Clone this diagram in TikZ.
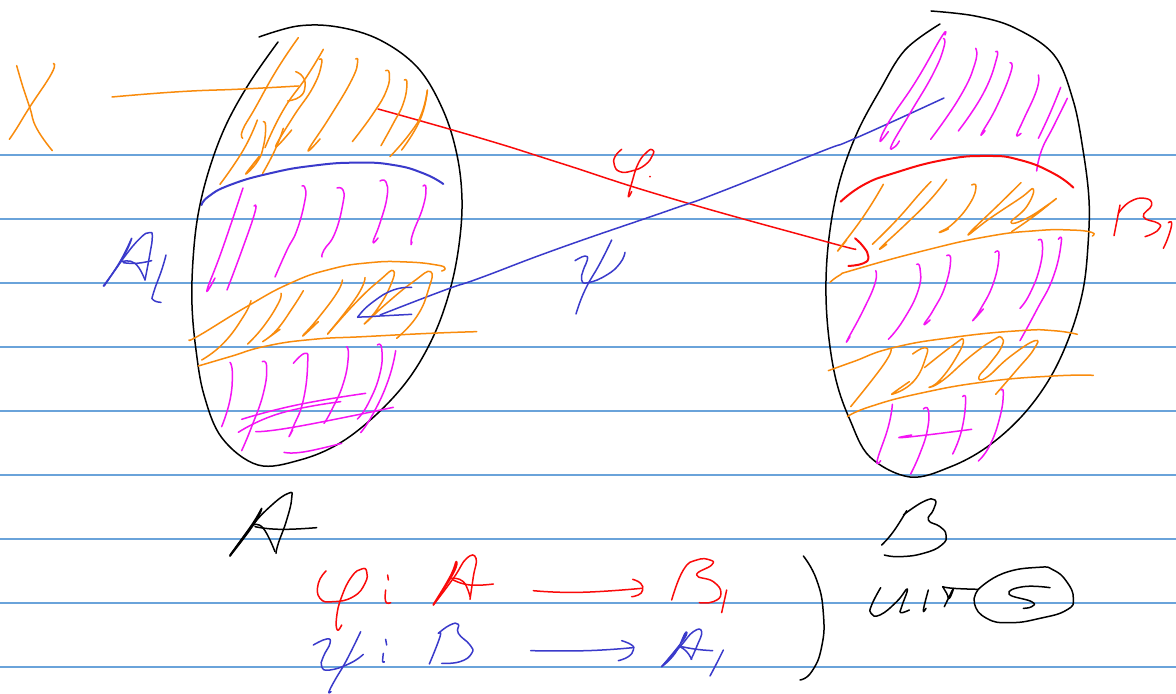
\documentclass[tikz,border=0pt]{standalone}
\definecolor{ruleblue}{HTML}{6AA3DA}
\definecolor{penorange}{HTML}{F98B0C}
\definecolor{penmagenta}{HTML}{F414F4}
\definecolor{penred}{HTML}{FA0A0A}
\definecolor{penblue}{HTML}{3A3ACB}
\begin{document}
\begin{tikzpicture}[
  x=0.5pt, y=-0.5pt,
  rule/.style={draw=ruleblue, line width=0.6pt},
  ink/.style={smooth, tension=0.85, line cap=round, line join=round, line width=0.75pt},
  orangeink/.style={ink, draw=penorange},
  magentaink/.style={ink, draw=penmagenta},
  redink/.style={ink, draw=penred},
  blueink/.style={ink, draw=penblue},
  blackink/.style={ink, draw=black}
]
\useasboundingbox[fill=white] (0,0) rectangle (1176,694);
\foreach \y in {155,219,283,347,411,475,539,603,667} {
  \draw[rule] (0,\y) -- (1176,\y);
}

% blobs
\draw[blackink, tension=0.6] plot coordinates {(278,42) (250,82) (226,125) (209,170) (198,215) (193,260) (192,305) (196,350) (204,395) (222,438) (258,465) (300,460) (340,443) (378,413) (410,377) (434,335) (450,290) (459,245) (462,200) (457,155) (443,110) (418,68) (380,40) (338,27) (298,26) (259,37)};
\draw[blackink, tension=0.6] plot coordinates {(940,24) (905,50) (880,90) (857,133) (840,180) (830,230) (826,280) (828,330) (836,380) (850,420) (870,457) (910,477) (950,467) (987,447) (1022,416) (1050,378) (1070,335) (1083,290) (1088,245) (1089,200) (1083,150) (1073,100) (1054,55) (1015,28) (975,16) (931,11)};

% maps across
\draw[redink] plot coordinates {(378,109) (480,138) (560,163) (670,198) (820,240) (855,249)};
\draw[blueink] plot coordinates {(944,98) (856,138) (820,152) (720,192) (670,210) (560,248) (480,278) (445,290) (380,315)};

% A, upper band
\begin{scope}[shift={(180,20)}, scale=1/3]
\draw[orangeink] plot coordinates {(355,53) (290,150) (225,265) (188,330) (188,355)};
\draw[orangeink] plot coordinates {(232,300) (190,390) (120,493)};
\draw[orangeink] plot coordinates {(250,305) (257,320) (250,380) (232,425) (197,462) (237,410)};
\draw[orangeink] plot coordinates {(430,88) (380,170) (310,270) (255,383)};
\draw[orangeink] plot coordinates {(418,118) (425,130) (400,200) (340,290) (287,380) (335,330)};
\draw[orangeink] plot coordinates {(310,325) (285,390) (248,460)};
\draw[orangeink] plot coordinates {(527,117) (533,125) (515,180) (450,290) (385,390) (420,357)};
\draw[orangeink] plot coordinates {(617,152) (628,160) (620,210) (580,280) (517,365)};
\draw[orangeink] plot coordinates {(673,180) (681,190) (670,250) (640,310) (603,377)};
\draw[orangeink] plot coordinates {(742,210) (725,280) (690,340) (630,410)};
\draw[orangeink] plot coordinates {(742,212) (720,300) (665,390)};
\draw[orangeink] plot coordinates {(-204,231) (0,215) (190,207) (355,198)};
\draw[orangeink] plot coordinates {(347,155) (368,170) (375,200) (360,230) (323,243)};
\draw[blueink, line width=1pt] plot coordinates {(65,555) (85,530) (150,495) (270,460) (400,437) (530,428) (640,435) (730,460) (790,492)};
\end{scope}
\draw[magentaink] plot coordinates {(243,188) (222,250) (207,290) (215,278)};
\draw[magentaink] plot coordinates {(254,206) (255,212) (242,250) (227,290)};
\draw[magentaink] plot coordinates {(302,186) (305,188) (305,200) (297,230) (287,250) (275,277)};
\draw[magentaink] plot coordinates {(337,188) (343,190) (343,203) (335,233) (324,250) (322,257)};
\draw[magentaink] plot coordinates {(380,181) (386,182) (387,197) (380,223) (373,242) (378,238)};
\draw[magentaink] plot coordinates {(423,186) (426,188) (423,207) (413,233) (411,244) (412,242)};

% A, lower bands
\begin{scope}[shift={(180,240)}, scale=1/3]
\draw[orangeink] plot coordinates {(27,300) (60,285) (200,200) (330,130) (450,88) (570,68) (680,66) (770,75) (795,85) (785,93)};
\draw[orangeink] plot coordinates {(55,378) (150,350) (260,318) (400,298) (550,290) (750,280) (890,275)};
\draw[orangeink] plot coordinates {(213,182) (190,230) (130,310) (65,360)};
\draw[orangeink] plot coordinates {(303,160) (295,190) (250,260) (203,312)};
\draw[orangeink] plot coordinates {(370,152) (340,200) (290,270) (248,305) (300,268)};
\draw[orangeink] plot coordinates {(487,120) (470,160) (410,240) (368,288) (415,245)};
\draw[orangeink] plot coordinates {(555,113) (530,170) (443,282)};
\draw[orangeink] plot coordinates {(443,282) (530,185) (600,120) (640,92) (630,140) (590,210) (553,252) (620,190) (700,125) (752,95) (745,150) (710,230) (650,295)};
\draw[blueink] plot coordinates {(695,142) (640,150) (580,185) (538,225) (545,231) (600,228) (695,223)};
\draw[magentaink] plot coordinates {(150,367) (157,400) (150,480) (125,560)};
\draw[magentaink] plot coordinates {(247,365) (260,380) (250,460) (215,560) (185,632)};
\draw[magentaink] plot coordinates {(340,370) (375,340) (383,370) (370,480) (340,560) (327,590) (338,570)};
\draw[magentaink] plot coordinates {(500,320) (505,350) (490,430) (455,510) (432,550)};
\draw[magentaink] plot coordinates {(592,315) (605,325) (600,400) (565,490) (532,537)};
\draw[magentaink] plot coordinates {(647,332) (625,420) (580,520) (542,578)};
\draw[magentaink] plot coordinates {(185,538) (350,495) (557,460)};
\draw[magentaink] plot coordinates {(175,577) (300,520) (482,485)};
\draw[magentaink] plot coordinates {(227,575) (350,560) (640,502)};
\draw[magentaink] plot coordinates {(312,637) (370,636) (485,610)};
\end{scope}

% B, upper bands
\begin{scope}[shift={(820,10)}, scale=1/3]
\draw[magentaink] plot coordinates {(375,75) (365,80) (290,210) (210,330) (180,393) (205,365)};
\draw[magentaink] plot coordinates {(370,85) (372,110) (340,190) (270,310) (215,405) (225,410) (238,393)};
\draw[magentaink] plot coordinates {(467,115) (465,160) (420,260) (332,388)};
\draw[magentaink] plot coordinates {(527,125) (530,145) (490,250) (415,363)};
\draw[magentaink] plot coordinates {(570,158) (573,185) (530,290) (485,370) (495,362)};
\draw[magentaink] plot coordinates {(655,195) (650,240) (610,330) (590,375) (603,370)};
\draw[magentaink] plot coordinates {(722,232) (690,310) (655,385)};
\draw[magentaink] plot coordinates {(742,265) (700,350) (665,420) (650,483)};
\draw[redink, line width=1pt] plot coordinates {(62,575) (130,525) (220,490) (370,450) (500,438) (600,450) (700,490) (760,533)};
\draw[orangeink] plot coordinates {(190,523) (130,620) (55,720) (80,690)};
\draw[orangeink] plot coordinates {(333,515) (300,550) (230,630) (157,703)};
\draw[orangeink] plot coordinates {(380,508) (330,570) (260,640) (182,713) (200,703)};
\draw[orangeink] plot coordinates {(455,525) (468,530) (450,580) (400,640) (358,667) (385,657)};
\draw[orangeink] plot coordinates {(603,518) (540,580) (445,673) (510,625) (600,565) (640,537) (620,590) (573,637) (620,625) (690,580) (703,570) (640,620) (575,665)};
\draw[orangeink] plot coordinates {(30,817) (60,795) (100,780) (300,725) (500,680) (650,662) (750,660) (815,667) (817,678)};
\draw[redink, line width=1pt] plot coordinates {(105,685) (130,710) (145,740) (130,760) (85,768)};
\end{scope}

% B, lower bands
\begin{scope}[shift={(820,250)}, scale=1/3]
\draw[magentaink] plot coordinates {(167,62) (165,100) (130,180) (82,270) (90,260)};
\draw[magentaink] plot coordinates {(290,43) (300,55) (295,120) (250,210) (205,268)};
\draw[magentaink] plot coordinates {(380,17) (392,30) (375,110) (340,180) (312,223) (330,210)};
\draw[magentaink] plot coordinates {(525,7) (537,15) (520,100) (480,180) (458,212) (490,177)};
\draw[magentaink] plot coordinates {(655,-30) (667,-20) (660,50) (630,130) (600,175)};
\draw[magentaink] plot coordinates {(715,-32) (724,-25) (700,80) (650,180) (600,272)};
\draw[orangeink] plot coordinates {(25,362) (100,335) (220,293) (400,262) (600,242) (700,242) (772,253)};
\draw[orangeink] plot coordinates {(82,500) (150,470) (300,430) (500,395) (700,378) (820,376)};
\draw[orangeink] plot coordinates {(213,298) (190,345) (92,470)};
\draw[orangeink] plot coordinates {(278,312) (315,293) (318,320) (280,395) (215,433) (268,395)};
\draw[orangeink] plot coordinates {(313,353) (400,285) (430,270) (410,320) (360,390) (327,412) (370,390) (450,320) (520,270) (545,263) (545,290) (510,340) (477,380) (500,382) (570,320) (645,272) (640,300) (590,360) (527,433)};
\draw[magentaink] plot coordinates {(217,463) (205,530) (172,630) (182,632)};
\draw[magentaink] plot coordinates {(310,477) (325,480) (322,540) (300,610) (272,672)};
\draw[magentaink] plot coordinates {(428,440) (437,450) (425,540) (398,612)};
\draw[magentaink] plot coordinates {(543,420) (550,430) (540,500) (510,585) (475,633)};
\draw[magentaink] plot coordinates {(275,555) (238,563) (320,555) (455,538)};
\end{scope}

% X
\begin{scope}[shift={(0,50)}, scale=1/3]
\draw[orangeink] plot coordinates {(50,47) (70,115) (90,175) (110,235) (157,302)};
\draw[orangeink] plot coordinates {(160,40) (155,70) (90,170) (50,235) (28,268)};
\end{scope}

% A1 at the side
\begin{scope}[shift={(90,220)}, scale=1/3]
\draw[blueink] plot coordinates {(40,198) (95,120) (125,55) (90,125) (42,198)};
\draw[blueink] plot coordinates {(42,198) (100,115) (150,55) (178,38) (187,50) (180,100) (165,180)};
\draw[blueink] plot coordinates {(95,125) (135,130) (165,180)};
\draw[blueink] plot coordinates {(100,128) (140,130) (185,122)};
\draw[blueink] plot coordinates {(228,105) (215,150) (190,220) (190,240) (213,247)};
\end{scope}

% phi and psi on the maps
\begin{scope}[shift={(560,140)}, scale=1/3]
\draw[redink] plot coordinates {(185,28) (165,50) (163,75) (180,95) (215,93) (255,75) (278,45) (278,30) (262,35) (235,70) (215,130) (205,170) (215,155)};
\fill[penred] (270,110) circle (3);
\draw[blueink] plot coordinates {(45,362) (75,348) (82,360) (70,390) (65,420) (85,428) (140,405) (180,370) (195,337)};
\draw[blueink] plot coordinates {(155,300) (120,370) (75,450) (48,522)};
\end{scope}

% B1 at the side
\begin{scope}[shift={(1100,190)}, scale=1/3]
\draw[redink] plot coordinates {(60,45) (42,137)};
\draw[redink] plot coordinates {(55,70) (90,35) (135,25) (155,45) (130,80) (175,100) (178,115) (160,130) (135,140)};
\draw[redink] plot coordinates {(205,98) (215,100) (205,140) (190,175)};
\end{scope}

% bottom line, left part
\begin{scope}[shift={(220,490)}, scale=1/3]
\draw[blackink] plot coordinates {(30,198) (100,105) (125,55) (95,105) (30,195)};
\draw[blackink] plot coordinates {(30,198) (90,115) (150,50) (205,10) (215,25) (200,90) (175,160) (168,190)};
\draw[blackink] plot coordinates {(100,105) (130,115) (165,185)};
\draw[blackink] plot coordinates {(105,110) (180,118) (290,113)};
\draw[redink] plot coordinates {(318,243) (295,280) (300,325) (340,335) (400,320) (435,280) (440,245) (425,237) (395,260) (365,320) (350,380) (352,420) (365,405)};
\draw[redink] plot coordinates {(503,255) (505,270)};
\draw[redink] plot coordinates {(497,300) (497,335) (512,338)};
\draw[redink] plot coordinates {(640,345) (700,250) (708,215) (690,260) (640,343)};
\draw[redink] plot coordinates {(640,345) (700,265) (740,205) (768,205) (760,260) (750,328)};
\draw[redink] plot coordinates {(695,265) (730,275) (750,320)};
\draw[redink] plot coordinates {(700,270) (750,285) (820,282)};
\draw[redink] plot coordinates {(940,302) (1080,307) (1265,295)};
\draw[redink] plot coordinates {(1238,268) (1262,280) (1268,300) (1255,315) (1235,320)};
\draw[redink] plot coordinates {(1355,330) (1390,240) (1430,210) (1470,210) (1475,225) (1430,255) (1480,275) (1503,310) (1480,335) (1438,338)};
\draw[redink] plot coordinates {(1520,300) (1505,368)};
\draw[blueink] plot coordinates {(280,465) (320,447) (330,460) (310,500) (305,530) (330,540) (390,520) (430,493)};
\draw[blueink] plot coordinates {(422,425) (380,510) (345,570) (327,605) (333,605)};
\draw[blueink] plot coordinates {(497,448) (500,465)};
\draw[blueink] plot coordinates {(490,490) (488,515) (493,515)};
\draw[blueink] plot coordinates {(655,430) (660,440) (628,522)};
\draw[blueink] plot coordinates {(655,430) (690,405) (715,403) (715,430) (750,465) (755,490) (720,515) (665,520)};
\draw[blueink] plot coordinates {(932,482) (1100,482) (1238,473)};
\draw[blueink] plot coordinates {(1205,452) (1235,465) (1240,480) (1225,500) (1195,512)};
\draw[blueink] plot coordinates {(1325,530) (1390,450) (1395,430) (1365,490) (1325,530)};
\draw[blueink] plot coordinates {(1325,530) (1380,470) (1420,425) (1445,425) (1430,470) (1413,508)};
\draw[blueink] plot coordinates {(1380,470) (1400,485) (1415,508)};
\draw[blueink] plot coordinates {(1385,470) (1430,478) (1478,482)};
\draw[blueink] plot coordinates {(1510,480) (1490,520) (1470,558)};
\end{scope}

% bottom line, right part
\begin{scope}[shift={(790,490)}, scale=1/3]
\draw[blackink] plot coordinates {(40,198) (80,270) (100,370) (95,470) (65,545) (30,570)};
\draw[blackink] plot coordinates {(350,62) (310,125) (275,165)};
\draw[blackink] plot coordinates {(340,75) (400,35) (435,30) (430,60) (415,90) (450,110) (468,135) (455,165) (400,190) (330,200) (283,195)};
\draw[blackink] plot coordinates {(272,293) (245,345) (243,370) (270,375) (320,335) (352,297) (335,350) (332,368) (358,360)};
\draw[blackink] plot coordinates {(415,300) (400,360) (408,355)};
\draw[blackink] plot coordinates {(458,290) (470,310) (478,325) (490,295) (463,350)};
\draw[blackink] plot coordinates {(458,290) (490,295) (565,298)};
\draw[blackink] plot coordinates {(565,298) (640,250) (745,232) (790,240) (830,275) (850,325) (830,360) (750,385) (660,398) (590,385) (553,340) (565,298)};
\draw[blackink] plot coordinates {(780,293) (700,290) (657,312) (725,335) (725,350) (700,355)};
\end{scope}
\end{tikzpicture}
\end{document}
